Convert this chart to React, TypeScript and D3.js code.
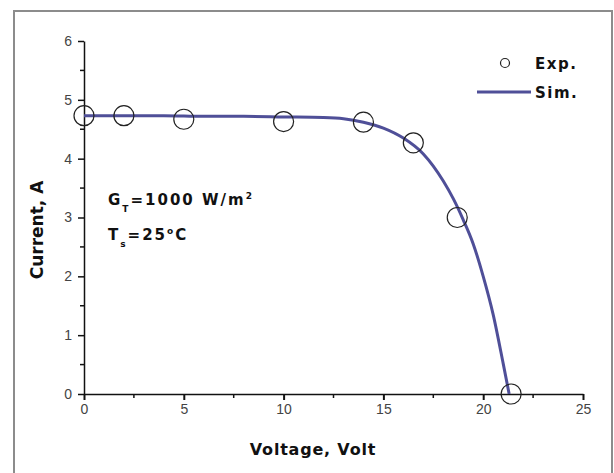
import React, { useEffect, useRef } from 'react';
import * as d3 from 'd3';

// measured points (open circles)
const expVoltage = [0, 2, 5, 10, 14, 16.5, 18.7, 21.4];
const expCurrent = [4.73, 4.73, 4.67, 4.63, 4.62, 4.27, 3.0, 0];

// simulated I-V curve
const simVoltage = [0, 2, 4, 6, 8, 10, 12, 13, 14, 15, 16, 17, 18, 18.5, 19, 19.5, 20, 20.5, 21, 21.3];
const simCurrent = [4.73, 4.73, 4.73, 4.72, 4.72, 4.71, 4.70, 4.68, 4.62, 4.52, 4.35, 4.08, 3.62, 3.32, 2.96, 2.55, 2.0, 1.35, 0.52, 0];

const xTicks = [0, 5, 10, 15, 20, 25];
const yTicks = [0, 1, 2, 3, 4, 5, 6];

const IVChart = () => {
  const chartRef = useRef<HTMLDivElement>(null);

  useEffect(() => {
    const width = 614;
    const height = 473;
    const bold = "'DejaVu Sans', sans-serif";
    const thin = "'Liberation Sans', Arial, sans-serif";

    const x = d3.scaleLinear().domain([0, 25]).range([84, 583]);
    const y = d3.scaleLinear().domain([0, 6]).range([394, 41]);

    const svg = d3.create('svg')
      .attr('width', width)
      .attr('height', height)
      .attr('style', 'position:absolute;left:0;top:0;background:#fff');

    // outer frame
    svg.append('rect')
      .attr('x', 14).attr('y', 11)
      .attr('width', 598).attr('height', 470)
      .attr('fill', 'none')
      .attr('stroke', '#8c8c8c')
      .attr('stroke-width', 2);

    // x axis
    const gx = svg.append('g')
      .attr('transform', `translate(0,${y(0)})`)
      .call(d3.axisBottom(x).tickValues(xTicks).tickFormat(d3.format('d')).tickSize(6).tickSizeOuter(0).tickPadding(4));
    gx.select('.domain').attr('stroke', '#111').attr('stroke-width', 1.5);
    gx.selectAll('.tick line').attr('stroke', '#111').attr('stroke-width', 2);
    gx.selectAll('.tick text')
      .attr('fill', '#444')
      .attr('font-family', thin)
      .attr('font-size', 14);
    gx.selectAll('.minor')
      .data(d3.range(2.5, 25, 5))
      .join('line')
      .attr('x1', d => x(d)).attr('x2', d => x(d))
      .attr('y1', 0).attr('y2', 4)
      .attr('stroke', '#111').attr('stroke-width', 1.5);

    // y axis
    const gy = svg.append('g')
      .attr('transform', `translate(${x(0)},0)`)
      .call(d3.axisLeft(y).tickValues(yTicks).tickFormat(d3.format('d')).tickSize(6).tickSizeOuter(0).tickPadding(6));
    gy.select('.domain').attr('stroke', '#111').attr('stroke-width', 1.5);
    gy.selectAll('.tick line').attr('stroke', '#111').attr('stroke-width', 1.5);
    gy.selectAll('.tick text')
      .attr('fill', '#444')
      .attr('font-family', thin)
      .attr('font-size', 14);
    gy.selectAll('.minor')
      .data(d3.range(0.5, 6, 1))
      .join('line')
      .attr('x1', 0).attr('x2', -4)
      .attr('y1', d => y(d)).attr('y2', d => y(d))
      .attr('stroke', '#111').attr('stroke-width', 1.5);

    // simulated curve
    const line = d3.line<number>()
      .x((d, i) => x(simVoltage[i]))
      .y(d => y(d))
      .curve(d3.curveMonotoneX);
    svg.append('path')
      .datum(simCurrent)
      .attr('d', line)
      .attr('fill', 'none')
      .attr('stroke', '#4f4f98')
      .attr('stroke-width', 3);

    // experimental circles
    svg.append('g')
      .selectAll('circle')
      .data(expCurrent)
      .join('circle')
      .attr('cx', (d, i) => x(expVoltage[i]))
      .attr('cy', d => y(d))
      .attr('r', 10)
      .attr('fill', 'none')
      .attr('stroke', '#222')
      .attr('stroke-width', 1.2);

    // axis titles
    svg.append('text')
      .attr('x', 313).attr('y', 455)
      .attr('text-anchor', 'middle')
      .attr('font-family', bold)
      .attr('font-weight', 'bold')
      .attr('font-size', 16)
      .attr('letter-spacing', 0.8)
      .attr('fill', '#111')
      .text('Voltage, Volt');

    svg.append('text')
      .attr('transform', 'translate(43,230) rotate(-90)')
      .attr('text-anchor', 'middle')
      .attr('font-family', bold)
      .attr('font-weight', 'bold')
      .attr('font-size', 17)
      .attr('fill', '#111')
      .text('Current, A');

    // conditions
    const g1 = svg.append('text')
      .attr('x', 108).attr('y', 205)
      .attr('font-family', bold)
      .attr('font-weight', 'bold')
      .attr('font-size', 15)
      .attr('letter-spacing', 2)
      .attr('fill', '#111');
    g1.append('tspan').text('G');
    g1.append('tspan').attr('dy', 7).attr('font-size', 9).text('T');
    g1.append('tspan').attr('dy', -7).text('=1000 W/m');
    g1.append('tspan').attr('dy', -6).attr('font-size', 9).text('2');

    const g2 = svg.append('text')
      .attr('x', 108).attr('y', 240)
      .attr('font-family', bold)
      .attr('font-weight', 'bold')
      .attr('font-size', 15)
      .attr('letter-spacing', 2)
      .attr('fill', '#111');
    g2.append('tspan').text('T');
    g2.append('tspan').attr('dy', 7).attr('font-size', 9).text('s');
    g2.append('tspan').attr('dy', -7).text('=25');
    g2.append('tspan').attr('dy', -6).attr('font-size', 9).text('o');
    g2.append('tspan').attr('dy', 6).text('C');

    // legend
    const legend = svg.append('g');
    legend.append('circle')
      .attr('cx', 505).attr('cy', 63).attr('r', 4.5)
      .attr('fill', 'none').attr('stroke', '#222').attr('stroke-width', 1.2);
    legend.append('line')
      .attr('x1', 477).attr('x2', 531)
      .attr('y1', 92).attr('y2', 92)
      .attr('stroke', '#4f4f98').attr('stroke-width', 3);
    legend.selectAll('text')
      .data(['Exp.', 'Sim.'])
      .join('text')
      .attr('x', 535)
      .attr('y', (d, i) => 69 + i * 29)
      .attr('font-family', bold)
      .attr('font-weight', 'bold')
      .attr('font-size', 15)
      .attr('letter-spacing', 1.5)
      .attr('fill', '#111')
      .text(d => d);

    chartRef.current!.innerHTML = '';
    chartRef.current!.appendChild(svg.node()!);
  }, []);

  return <div ref={chartRef} style={{ width: 614, height: 473 }}></div>;
};

export default IVChart;
